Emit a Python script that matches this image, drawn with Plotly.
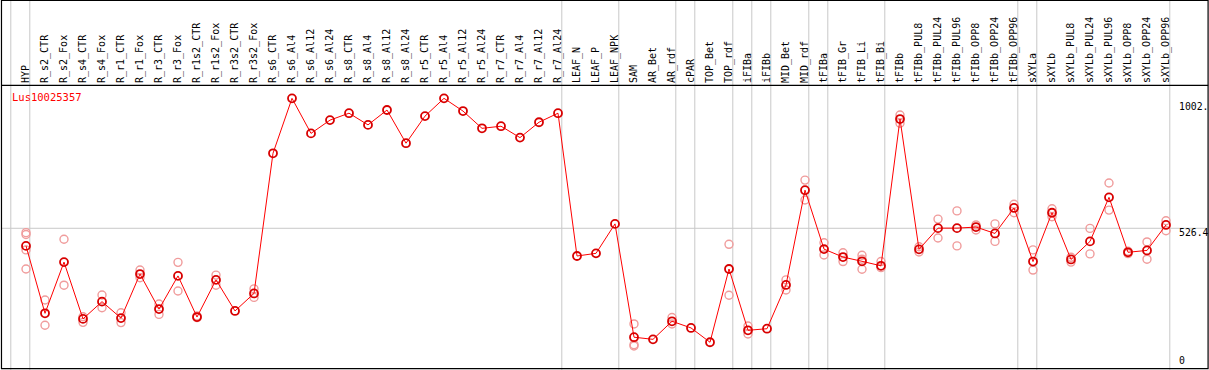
import plotly.graph_objects as go

categories = ["HYP", "R_s2_CTR", "R_s2_Fox", "R_s4_CTR", "R_s4_Fox", "R_r1_CTR", "R_r1_Fox",
              "R_r3_CTR", "R_r3_Fox", "R_r1s2_CTR", "R_r1s2_Fox", "R_r3s2_CTR", "R_r3s2_Fox",
              "R_s6_CTR", "R_s6_Al4", "R_s6_Al12", "R_s6_Al24", "R_s8_CTR", "R_s8_Al4", "R_s8_Al12",
              "R_s8_Al24", "R_r5_CTR", "R_r5_Al4", "R_r5_Al12", "R_r5_Al24", "R_r7_CTR", "R_r7_Al4",
              "R_r7_Al12", "R_r7_Al24", "LEAF_N", "LEAF_P", "LEAF_NPK", "SAM", "AR_Bet", "AR_rdf",
              "cPAR", "TOP_Bet", "TOP_rdf", "iFIBa", "iFIBb", "MID_Bet", "MID_rdf", "tFIBa",
              "tFIB_Gr", "tFIB_Li", "tFIB_Bi", "tFIBb", "tFIBb_PUL8", "tFIBb_PUL24", "tFIBb_PUL96",
              "tFIBb_OPP8", "tFIBb_OPP24", "tFIBb_OPP96", "sXYLa", "sXYLb", "sXYLb_PUL8",
              "sXYLb_PUL24", "sXYLb_PUL96", "sXYLb_OPP8", "sXYLb_OPP24", "sXYLb_OPP96"]

means = [460, 206, 399, 185, 250, 188, 354, 222, 347, 192, 332, 215, 281,
         809, 1016, 884, 934, 960, 916, 972, 847, 949, 1016, 968, 903, 911, 868, 926, 960,
         422, 432, 543, 116, 108, 176, 151, 97, 373, 142, 148, 313, 670,
         448, 418, 402, 385, 938, 447, 527, 527, 531, 507, 603,
         401, 585, 409, 477, 643, 436, 443, 539]

replicates = [[510, 503, 445, 373], [256, 161], [485, 312], [193, 172], [275, 227],
              [208, 171], [369, 340], [241, 202], [398, 290], [196, 190], [350, 312], [],
              [298, 266], [], [], [], [], [], [], [], [], [], [], [], [], [], [], [], [],
              [], [], [], [166, 88, 83], [], [190, 166], [], [], [466, 274], [158, 128], [],
              [332, 294], [708, 633], [472, 426], [434, 401], [425, 410, 372], [401, 378],
              [953, 922], [457, 437], [561, 490], [592, 460], [539, 520], [543, 477],
              [617, 585], [445, 369], [600, 570], [417, 399], [526, 430], [697, 595],
              [440, 431], [475, 410], [555, 517]]

gene = "Lus10025357"
y_ticks = [0, 526.4, 1002]
y_tick_text = ["0", "526.4", "1002."]
# group boundaries (grid line drawn just right of these indices)
boundaries = [-1, 0, 28, 31, 34, 35, 37, 38, 39, 41, 42, 45, 52, 53, 60]

FONT = "DejaVu Sans Mono"
xs = list(range(len(categories)))

rx, ry = [], []
for i, reps in enumerate(replicates):
    for v in reps:
        rx.append(i)
        ry.append(v)

fig = go.Figure()
fig.add_trace(go.Scatter(x=rx, y=ry, mode="markers",
                         marker=dict(symbol="circle-open", size=8, color="#f09c9c",
                                     line=dict(width=1.4, color="#f09c9c")),
                         hoverinfo="skip", showlegend=False))
fig.add_trace(go.Scatter(x=xs, y=means, mode="lines+markers",
                         line=dict(color="#ff0000", width=1),
                         marker=dict(symbol="circle-open", size=8, color="#d80000",
                                     line=dict(width=1.8, color="#d80000")),
                         showlegend=False))

shapes = []
for b in boundaries:
    shapes.append(dict(type="line", xref="x", yref="paper", x0=b + 0.2, x1=b + 0.2,
                       y0=-0.01, y1=1.31, line=dict(color="#c8c8c8", width=1), layer="below"))
shapes.append(dict(type="line", xref="paper", yref="y", x0=0, x1=1, y0=y_ticks[1], y1=y_ticks[1],
                   line=dict(color="#c8c8c8", width=1), layer="below"))
# frame and separator
shapes.append(dict(type="rect", xref="paper", yref="paper", x0=0.0004, x1=1.0009, y0=-0.002, y1=1.3035,
                   line=dict(color="black", width=1.2)))
shapes.append(dict(type="line", xref="paper", yref="paper", x0=0, x1=1.001, y0=1.002, y1=1.002,
                   line=dict(color="black", width=1.2)))

annotations = [dict(text=gene, xref="paper", yref="paper", x=0.0075, y=0.961, xanchor="left",
                    yanchor="middle", showarrow=False, font=dict(family=FONT, size=10.5, color="#ff0000"))]
for v, t in zip(y_ticks, y_tick_text):
    annotations.append(dict(text=t, xref="paper", yref="y", x=0.9755, y=v, xanchor="left",
                            yanchor="bottom" if v == 0 else "middle", yshift=0 if v == 0 else -4,
                            showarrow=False, font=dict(family=FONT, size=9.8, color="black")))

fig.update_layout(
    width=1209, height=370,
    margin=dict(l=1, r=2, t=86, b=2),
    paper_bgcolor="white", plot_bgcolor="white",
    xaxis=dict(range=[-1.3158, 62.158], side="top", tickmode="array", tickvals=xs,
               ticktext=categories, tickangle=-90, showgrid=False, zeroline=False,
               showline=False, ticks="", ticklabelstandoff=2,
               tickfont=dict(family=FONT, size=10, color="black")),
    yaxis=dict(range=[0, 1062.5], showgrid=False, zeroline=False, showticklabels=False,
               showline=False, ticks=""),
    shapes=shapes, annotations=annotations,
)
fig.write_html("out.html", config={"displayModeBar": False},
               post_script="document.body.style.margin='0';document.body.style.overflow='hidden';")
